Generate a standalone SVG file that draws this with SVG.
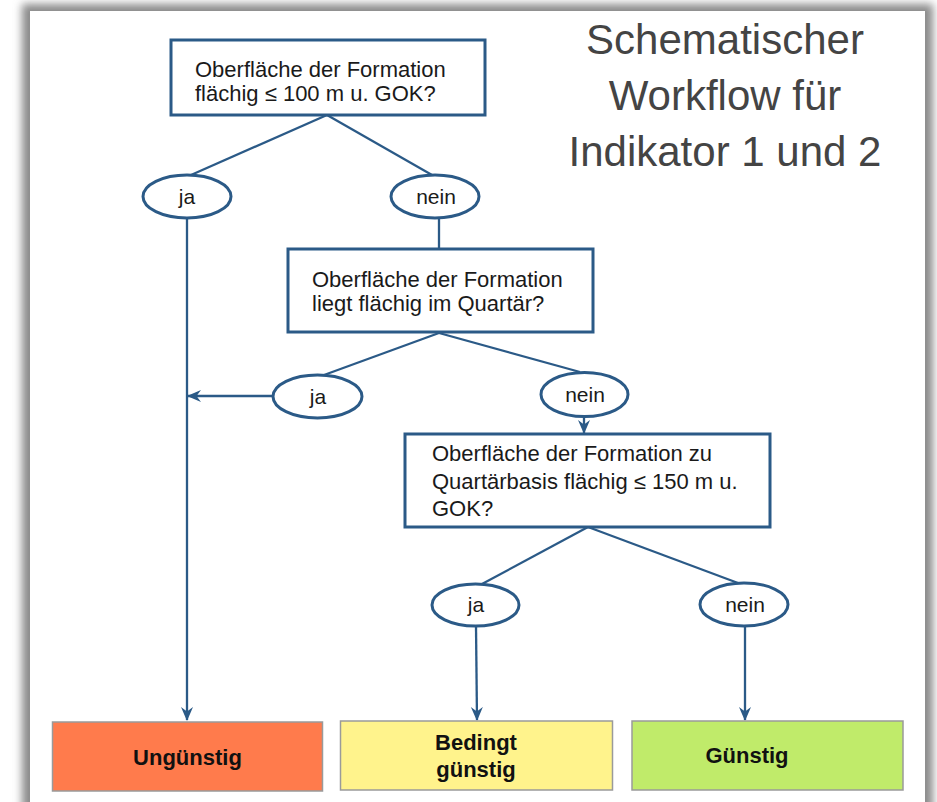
<svg xmlns="http://www.w3.org/2000/svg" width="937" height="802" viewBox="0 0 937 802">
<defs>
<filter id="sh" x="-10%" y="-10%" width="120%" height="120%"><feGaussianBlur stdDeviation="4"/></filter>
<marker id="arr" viewBox="0 0 14 14" refX="13" refY="7" markerWidth="14" markerHeight="14" markerUnits="userSpaceOnUse" orient="auto"><path d="M0,1 L14,7 L0,13 L4.5,7 z" fill="#2b5a87"/></marker>
<style>
.box{fill:#fff;stroke:#2b5a87;stroke-width:3}
.ell{fill:#fff;stroke:#2b5a87;stroke-width:3}
.con{fill:none;stroke:#2b5a87;stroke-width:2.3}
.t{font-family:"Liberation Sans",Arial,sans-serif;font-size:22px;fill:#1a1a1a}
.lab{font-family:"Liberation Sans",Arial,sans-serif;font-size:21px;fill:#1a1a1a;text-anchor:middle}
.res{stroke:#9a9a9a;stroke-width:1.5}
.rt{font-family:"Liberation Sans",Arial,sans-serif;font-size:22px;font-weight:bold;fill:#111;text-anchor:middle}
.title{font-family:"Liberation Sans",Arial,sans-serif;font-size:42px;fill:#444;text-anchor:middle}
</style>
</defs>
<rect width="937" height="802" fill="#fff"/>
<rect x="22" y="4" width="911" height="820" fill="#8a8a8a" filter="url(#sh)"/>
<rect x="30" y="11" width="895" height="800" fill="#fff"/>

<g id="title">
<text class="title" x="725" y="54">Schematischer</text>
<text class="title" x="725" y="110">Workflow für</text>
<text class="title" x="725" y="166">Indikator 1 und 2</text>
</g>

<g id="connectors">
<line class="con" x1="327" y1="115" x2="191" y2="175"/>
<line class="con" x1="327" y1="115" x2="432" y2="175"/>
<line class="con" x1="187" y1="218" x2="187" y2="720" marker-end="url(#arr)"/>
<line class="con" x1="439" y1="218" x2="439" y2="249"/>
<line class="con" x1="439" y1="333" x2="324" y2="375"/>
<line class="con" x1="439" y1="333" x2="580" y2="372"/>
<line class="con" x1="273" y1="396" x2="188" y2="396" marker-end="url(#arr)"/>
<line class="con" x1="584" y1="417" x2="584" y2="433" marker-end="url(#arr)"/>
<line class="con" x1="588" y1="527" x2="482" y2="584"/>
<line class="con" x1="588" y1="527" x2="738" y2="583"/>
<line class="con" x1="476" y1="626" x2="477" y2="720" marker-end="url(#arr)"/>
<line class="con" x1="745" y1="626" x2="745" y2="720" marker-end="url(#arr)"/>
</g>

<g id="q1">
<rect class="box" x="171" y="40" width="314" height="75"/>
<text class="t" x="195" y="77">Oberfläche der Formation</text>
<text class="t" x="195" y="101">flächig ≤ 100 m u. GOK?</text>
</g>
<g id="q1-ja"><ellipse class="ell" cx="187" cy="196.5" rx="44" ry="21.5"/><text class="lab" x="187" y="204">ja</text></g>
<g id="q1-nein"><ellipse class="ell" cx="435" cy="196.5" rx="44" ry="21.5"/><text class="lab" x="436" y="204">nein</text></g>

<g id="q2">
<rect class="box" x="288" y="249" width="305" height="83"/>
<text class="t" x="312" y="287">Oberfläche der Formation</text>
<text class="t" x="312" y="311">liegt flächig im Quartär?</text>
</g>
<g id="q2-ja"><ellipse class="ell" cx="317.5" cy="396.5" rx="44.5" ry="21.5"/><text class="lab" x="318" y="404">ja</text></g>
<g id="q2-nein"><ellipse class="ell" cx="584.5" cy="394.5" rx="43.5" ry="22"/><text class="lab" x="585" y="402">nein</text></g>

<g id="q3">
<rect class="box" x="405" y="434" width="365" height="93"/>
<text class="t" x="432" y="461">Oberfläche der Formation zu</text>
<text class="t" x="432" y="489">Quartärbasis flächig ≤ 150 m u.</text>
<text class="t" x="432" y="516">GOK?</text>
</g>
<g id="q3-ja"><ellipse class="ell" cx="475.5" cy="605" rx="43.5" ry="21"/><text class="lab" x="476" y="612">ja</text></g>
<g id="q3-nein"><ellipse class="ell" cx="744" cy="604.5" rx="44" ry="21.5"/><text class="lab" x="745" y="612">nein</text></g>

<g id="r-ungunstig">
<rect class="res" x="52.5" y="722" width="270" height="69" fill="#ff7b4c"/>
<text class="rt" x="187.5" y="765">Ungünstig</text>
</g>
<g id="r-bedingt">
<rect class="res" x="340.5" y="721" width="272" height="69" fill="#fff38c"/>
<text class="rt" x="476" y="750">Bedingt</text>
<text class="rt" x="476" y="777">günstig</text>
</g>
<g id="r-gunstig">
<rect class="res" x="632" y="721" width="271" height="69" fill="#c0eb6a"/>
<text class="rt" x="747" y="763">Günstig</text>
</g>
</svg>
